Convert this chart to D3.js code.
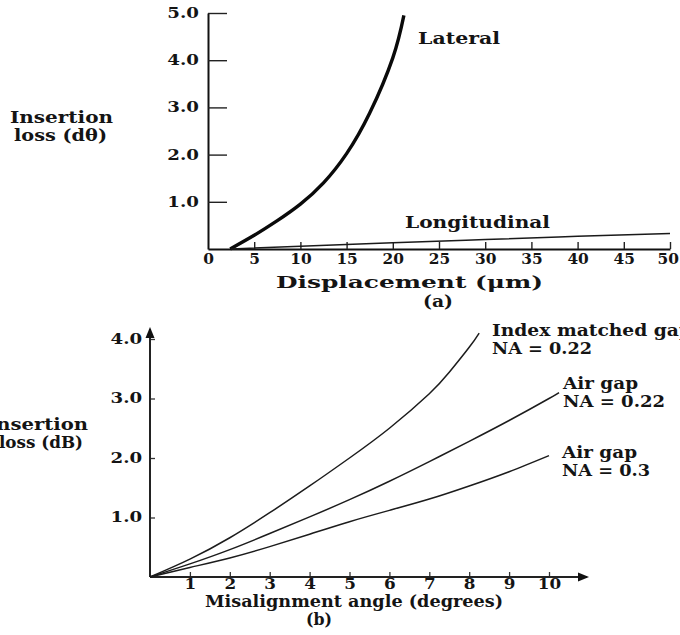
<!DOCTYPE html>
<html><head><meta charset="utf-8">
<script src="https://cdn.jsdelivr.net/npm/d3@7"></script>
<style>
html,body{margin:0;padding:0;background:#fff;}
svg{display:block;}
text{font-family:"DejaVu Serif",serif;font-weight:bold;fill:#141414;}
</style></head>
<body>
<script>
// ---------- Data: panel (a) ----------
const dispTicks = [0,5,10,15,20,25,30,35,40,45,50];
const lossTicksA = [1,2,3,4,5];
const lateralX = [2.4, 5, 7.5, 10, 12.5, 15, 17.5, 20, 21.2];
const lateralY = [0, 0.29, 0.6, 0.95, 1.4, 2.02, 2.88, 4.05, 4.95];
const longX = [2.5, 10, 20, 30, 40, 50];
const longY = [0, 0.06, 0.13, 0.2, 0.27, 0.33];

// ---------- Data: panel (b) ----------
const angleTicks = [1,2,3,4,5,6,7,8,9,10];
const lossTicksB = [1,2,3,4];
const indexX = [0,1,2,3,4,5,6,7,7.5,8,8.25];
const indexY = [0,0.3,0.66,1.08,1.53,2.0,2.5,3.08,3.44,3.86,4.1];
const air22X = [0,1,2,3,4,5,6,7,8,9,10,10.25];
const air22Y = [0,0.22,0.46,0.73,1.01,1.3,1.61,1.94,2.28,2.63,3.0,3.1];
const air3X = [0,1,2,3,4,5,6,7,8,9,10];
const air3Y = [0,0.16,0.32,0.51,0.72,0.93,1.12,1.31,1.53,1.77,2.04];

const W = 680, H = 635;
const svg = d3.select("body").append("svg").attr("width", W).attr("height", H);
svg.append("rect").attr("width", W).attr("height", H).attr("fill", "#fff");

function label(x, y, str, w, size) {
  const t = svg.append("text").attr("x", x).attr("y", y)
    .attr("font-size", size || 16).text(str);
  if (w) t.attr("textLength", w).attr("lengthAdjust", "spacingAndGlyphs");
  return t;
}

// ---------- Panel (a) ----------
const xA = d3.scaleLinear().domain([0,50]).range([208,670]);
const yA = d3.scaleLinear().domain([0,5]).range([249,13]);

const axA_y = svg.append("g").attr("transform", `translate(${xA(0)},0)`)
  .call(d3.axisLeft(yA).tickValues(lossTicksA).tickSizeInner(-19).tickSizeOuter(0)
    .tickPadding(7).tickFormat(d3.format(".1f")));
const axA_x = svg.append("g").attr("transform", `translate(0,${yA(0)})`)
  .call(d3.axisBottom(xA).tickValues(dispTicks).tickSizeInner(-7).tickSizeOuter(0)
    .tickPadding(5).tickFormat(d3.format("d")));
[axA_y, axA_x].forEach(g => {
  g.select(".domain").attr("stroke", "#111").attr("stroke-width", 2);
  g.selectAll(".tick line").attr("stroke", "#222").attr("stroke-width", 1.4);
  g.selectAll(".tick text").attr("font-size", 14).attr("font-family", "DejaVu Serif")
    .attr("font-weight", "bold").attr("fill", "#141414");
});
axA_y.selectAll(".tick text").attr("transform", "scale(1.3,1)");
axA_x.selectAll(".tick text").attr("transform", "scale(1.1,1)");
axA_x.selectAll(".tick").filter(d => d === 50).select("text").attr("x", -2);
axA_x.selectAll(".tick").filter(d => d === 0).select("line").remove();

const lineA = d3.line().x(d => xA(d[0])).y(d => yA(d[1])).curve(d3.curveNatural);
svg.append("path").attr("d", lineA(d3.zip(lateralX, lateralY)))
  .attr("fill", "none").attr("stroke", "#0a0a0a").attr("stroke-width", 3.4);
svg.append("path").attr("d", lineA(d3.zip(longX, longY)))
  .attr("fill", "none").attr("stroke", "#1a1a1a").attr("stroke-width", 1.5);

label(10, 123, "Insertion", 103);
label(14, 141, "loss (dθ)", 93);
label(418, 44, "Lateral", 82);
label(405, 228, "Longitudinal", 145);
label(276, 288, "Displacement (μm)", 267);
label(423, 307, "(a)", 30);

// ---------- Panel (b) ----------
const xB = d3.scaleLinear().domain([0,10]).range([150,549]);
const yB = d3.scaleLinear().domain([0,4]).range([577,339]);

const axB_y = svg.append("g").attr("transform", `translate(${xB(0)},0)`)
  .call(d3.axisLeft(yB).tickValues(lossTicksB).tickSizeInner(-5).tickSizeOuter(0)
    .tickPadding(6).tickFormat(d3.format(".1f")));
const axB_x = svg.append("g").attr("transform", `translate(0,${yB(0)})`)
  .call(d3.axisBottom(xB).tickValues(angleTicks).tickSizeInner(-5).tickSizeOuter(0)
    .tickPadding(2).tickFormat(d3.format("d")));
[axB_y, axB_x].forEach(g => {
  g.select(".domain").attr("stroke", "none");
  g.selectAll(".tick line").attr("stroke", "#333").attr("stroke-width", 1.3);
  g.selectAll(".tick text").attr("font-size", 14).attr("font-family", "DejaVu Serif")
    .attr("font-weight", "bold").attr("fill", "#141414");
});
axB_y.selectAll(".tick text").attr("transform", "scale(1.3,1)");
axB_x.selectAll(".tick text").attr("transform", "scale(1.2,1)");

// axis lines with arrows
const x0 = xB(0), y0 = yB(0);
const yTop = yB(4) - 10, xEnd = xB(10) + 38;
svg.append("line").attr("x1", x0).attr("y1", y0).attr("x2", x0).attr("y2", yTop)
  .attr("stroke", "#222").attr("stroke-width", 2);
svg.append("line").attr("x1", x0).attr("y1", y0).attr("x2", xEnd).attr("y2", y0)
  .attr("stroke", "#222").attr("stroke-width", 2);
svg.append("path").attr("d", `M${x0},${yTop-2} L${x0-4.5},${yTop+9} L${x0+4.5},${yTop+9} Z`).attr("fill", "#111");
svg.append("path").attr("d", `M${xEnd+2},${y0} L${xEnd-9},${y0-4.5} L${xEnd-9},${y0+4.5} Z`).attr("fill", "#111");

const lineB = d3.line().x(d => xB(d[0])).y(d => yB(d[1])).curve(d3.curveNatural);
[[indexX, indexY], [air22X, air22Y], [air3X, air3Y]].forEach(([xs, ys]) => {
  svg.append("path").attr("d", lineB(d3.zip(xs, ys)))
    .attr("fill", "none").attr("stroke", "#1c1c1c").attr("stroke-width", 1.5);
});

label(-13, 430, "Insertion", 101);
label(-1, 448, "loss (dB)", 84);
label(492, 336, "Index matched gap", 200);
label(492, 354, "NA = 0.22", 100);
label(563, 389, "Air gap", 75);
label(563, 407, "NA = 0.22", 102);
label(562, 458, "Air gap", 75);
label(562, 476, "NA = 0.3", 88);
label(205, 607, "Misalignment angle (degrees)", 298);
label(306, 625, "(b)", 26);
</script>
</body></html>
